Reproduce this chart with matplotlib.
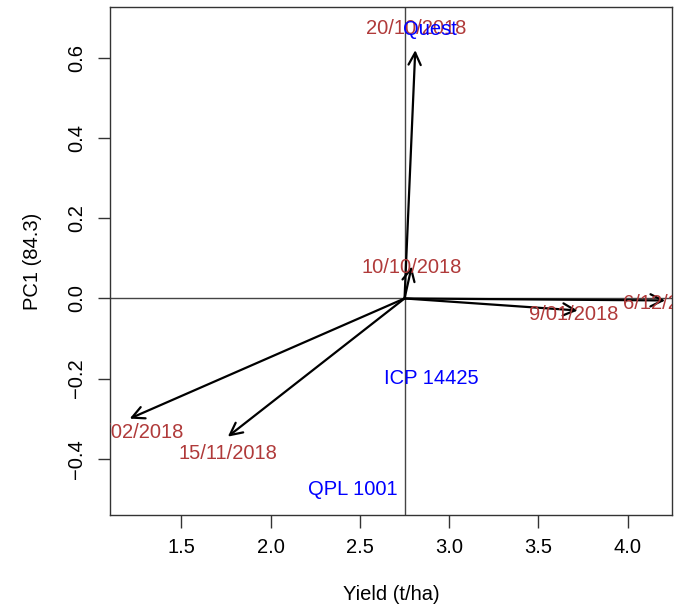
import numpy as np
import matplotlib
matplotlib.use('Agg')
import matplotlib.pyplot as plt

plt.rcParams['font.family'] = ['Liberation Sans', 'DejaVu Sans']

# origin of the biplot (mean yield)
origin = (2.75, 0.0)

# environment vectors (arrow tips)
env_names = ['20/10/2018', '10/10/2018', '6/12/2018', '9/01/2018', '22/02/2018', '15/11/2018']
env_x = [2.81, 2.79, 4.21, 3.72, 1.21, 1.76]
env_y = [0.62, 0.08, -0.005, -0.03, -0.30, -0.345]
# label positions of the environments
env_lab_x = [2.815, 2.79, 4.225, 3.70, 1.23, 1.76]
env_lab_y = [0.675, 0.077, -0.012, -0.04, -0.335, -0.387]

# genotypes
gen_names = ['Quest', 'ICP 14425', 'QPL 1001']
gen_x = [2.89, 2.90, 2.46]
gen_y = [0.672, -0.20, -0.478]

FS = 14.5

fig = plt.figure(figsize=(6.75, 6.07), dpi=100)
ax = fig.add_axes([0.163, 0.152, 0.833, 0.836])

ax.axvline(origin[0], color='#444444', lw=1)
ax.axhline(origin[1], color='#444444', lw=1)

for i in range(len(env_names)):
    ax.annotate('', xy=(env_x[i], env_y[i]), xytext=origin,
                arrowprops=dict(arrowstyle='->', color='black', lw=1.6,
                                mutation_scale=22, shrinkA=0, shrinkB=0))
    ax.text(env_lab_x[i], env_lab_y[i], env_names[i], color='#B03A3A',
            fontsize=FS, ha='center', va='center', clip_on=True)

for i in range(len(gen_names)):
    ax.text(gen_x[i], gen_y[i], gen_names[i], color='blue',
            fontsize=FS, ha='center', va='center', clip_on=True)

ax.set_xlim(1.10, 4.25)
ax.set_ylim(-0.54, 0.727)
ax.set_xticks([1.5, 2.0, 2.5, 3.0, 3.5, 4.0])
ax.set_yticks([-0.4, -0.2, 0.0, 0.2, 0.4, 0.6])
ax.set_xticklabels(['1.5', '2.0', '2.5', '3.0', '3.5', '4.0'])
ax.set_yticklabels(['\u22120.4', '\u22120.2', '0.0', '0.2', '0.4', '0.6'],
                   rotation=90, va='center')
ax.tick_params(labelsize=FS, length=9, width=1, color='#333333', pad=8)
for s in ax.spines.values():
    s.set_color('#333333')
    s.set_linewidth(1)

ax.set_xlabel('Yield (t/ha)', fontsize=FS, labelpad=20)
ax.set_ylabel('PC1 (84.3)', fontsize=FS, labelpad=18)

fig.savefig('out.png', dpi=100)
